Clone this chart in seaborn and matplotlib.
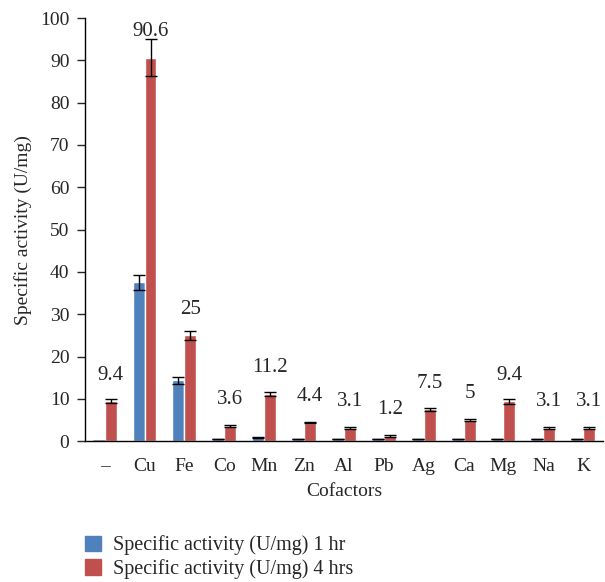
import matplotlib
matplotlib.use("Agg")
import matplotlib.pyplot as plt
import matplotlib.patches as mpatches
import numpy as np
import pandas as pd
import seaborn as sns

# Data
cofactors = ["\u2013", "Cu", "Fe", "Co", "Mn", "Zn", "Al", "Pb", "Ag", "Ca", "Mg", "Na", "K"]
act_1hr = [0.1, 37.5, 14.4, 0.5, 0.9, 0.5, 0.5, 0.5, 0.5, 0.5, 0.5, 0.5, 0.5]
err_1hr = [0.0, 1.8, 0.8, 0.1, 0.2, 0.1, 0.1, 0.1, 0.1, 0.1, 0.1, 0.1, 0.1]
act_4hr = [9.4, 90.6, 25, 3.6, 11.2, 4.4, 3.1, 1.2, 7.5, 5, 9.4, 3.1, 3.1]
err_4hr = [0.5, 4.4, 1.1, 0.2, 0.5, 0.2, 0.2, 0.2, 0.4, 0.3, 0.6, 0.2, 0.2]
labels_4hr = ["9.4", "90.6", "25", "3.6", "11.2", "4.4", "3.1", "1.2", "7.5", "5", "9.4", "3.1", "3.1"]
series = ["Specific activity (U/mg) 1 hr", "Specific activity (U/mg) 4 hrs"]
colors = ["#4F81BD", "#C0504D"]

data = pd.DataFrame({
    "Cofactor": cofactors * 2,
    "Activity": act_1hr + act_4hr,
    "Series": [series[0]] * len(cofactors) + [series[1]] * len(cofactors),
})

sns.set_style("white")
plt.rcParams["font.family"] = ["Liberation Serif", "DejaVu Serif"]
plt.rcParams["font.size"] = 14

fig = plt.figure(figsize=(6.05, 5.82), dpi=100)
ax = fig.add_axes([0.14, 0.242, 0.857, 0.727])

sns.barplot(data=data, x="Cofactor", y="Activity", hue="Series",
            hue_order=series, palette=colors, order=cofactors,
            width=0.6, errorbar=None, saturation=1, ax=ax, legend=False)

# error bars on top of the seaborn bars
for cont, errs in zip(ax.containers, [err_1hr, err_4hr]):
    xs = [p.get_x() + p.get_width() / 2 for p in cont.patches]
    ys = [p.get_height() for p in cont.patches]
    ax.errorbar(xs, ys, yerr=errs, fmt="none", ecolor="black",
                elinewidth=1, capsize=4, capthick=1)

ax.bar_label(ax.containers[1], labels=labels_4hr, padding=12, fontsize=15)

ax.set_ylim(0, 100)
ax.set_xlim(-0.5, len(cofactors) - 0.5)
ax.set_yticks(range(0, 101, 10))
ax.set_xticks(np.arange(-0.5, len(cofactors), 1), minor=True)
ax.tick_params(axis="x", which="major", length=0, labelsize=14, pad=12)
ax.tick_params(axis="x", which="minor", length=6, direction="out", width=1)
ax.tick_params(axis="y", length=6, direction="out", width=1, left=True,
               labelsize=14, pad=5)
for s in ["top", "right"]:
    ax.spines[s].set_visible(False)
for s in ["left", "bottom"]:
    ax.spines[s].set_color("black")
    ax.spines[s].set_linewidth(1)

ax.set_xlabel("Cofactors", fontsize=14, labelpad=6)
ax.set_ylabel("Specific activity (U/mg)", fontsize=14, labelpad=6)

handles = [mpatches.Patch(color=c, label=l) for c, l in zip(colors, series)]
fig.legend(handles=handles, loc="upper left", bbox_to_anchor=(0.127, 0.094),
           frameon=False, handlelength=0.8, handleheight=0.8,
           handletextpad=0.6, labelspacing=0.2, borderaxespad=0, fontsize=14.5)

plt.savefig("out.png", dpi=100)
